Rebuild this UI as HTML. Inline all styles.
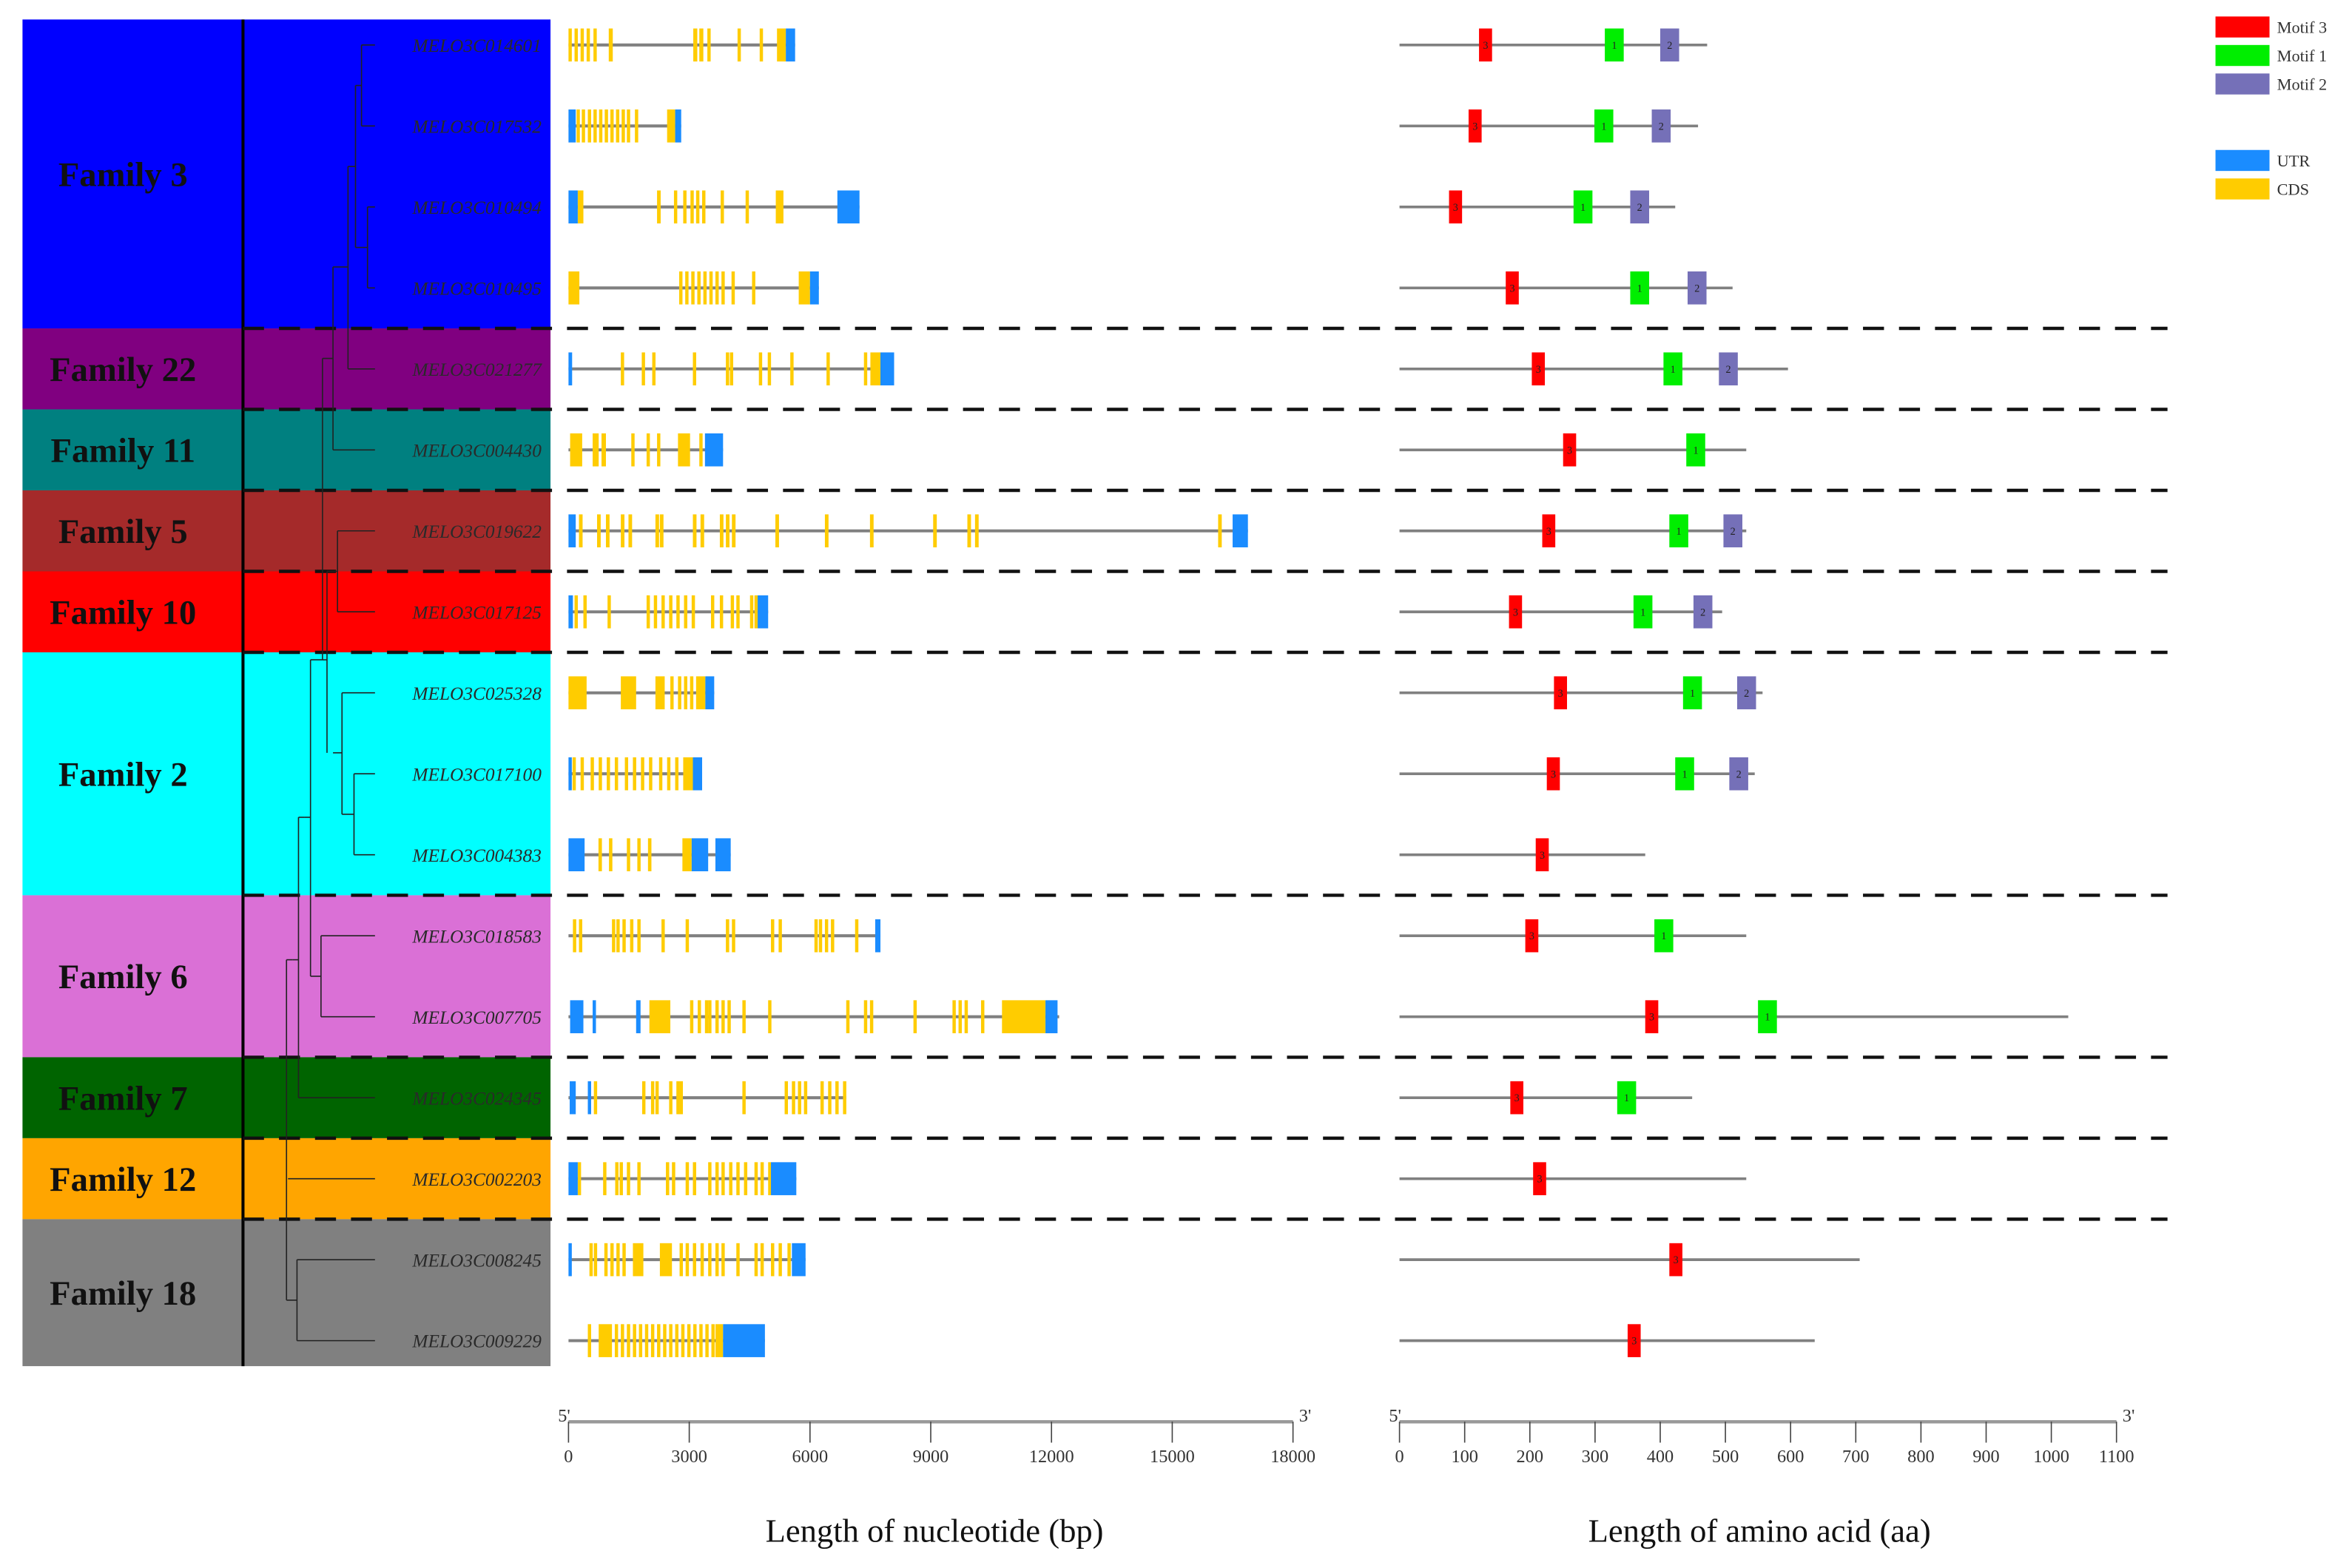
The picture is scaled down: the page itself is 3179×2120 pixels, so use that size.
<!DOCTYPE html>
<html><head><meta charset="utf-8"><style>
html,body{margin:0;padding:0;background:#fff;}
svg{display:block;}
text{font-family:"Liberation Serif",serif;}
</style></head><body>
<svg id="chart" xmlns="http://www.w3.org/2000/svg" width="3179" height="2120" viewBox="0 0 1568 1045.6" preserveAspectRatio="none">
<rect x="0" y="0" width="1568" height="1046" fill="#fff"/>
<g id="fam"></g><g id="tree"></g><g id="genes"></g><g id="prot"></g><g id="axes"></g>
<g id="legend">
 <rect x="1477" y="11" width="36" height="14" fill="#ff0000"/>
 <text x="1518" y="22" font-size="11" fill="#333">Motif 3</text>
 <rect x="1477" y="30" width="36" height="14" fill="#00ee00"/>
 <text x="1518" y="41" font-size="11" fill="#333">Motif 1</text>
 <rect x="1477" y="49" width="36" height="14" fill="#7570b8"/>
 <text x="1518" y="60" font-size="11" fill="#333">Motif 2</text>
 <rect x="1477" y="100" width="36" height="14" fill="#1a8cff"/>
 <text x="1518" y="111" font-size="11" fill="#333">UTR</text>
 <rect x="1477" y="119" width="36" height="14" fill="#ffcc00"/>
 <text x="1518" y="130" font-size="11" fill="#333">CDS</text>
</g>
</svg>
<script>
const families=["Family 3","Family 22","Family 11","Family 5","Family 10","Family 2","Family 6","Family 7","Family 12","Family 18"];
const familyColors=["#0000ff","#800080","#008080","#a52a2a","#ff0000","#00ffff","#da70d6","#006400","#ffa500","#808080"];
const familySizes=[4,1,1,1,1,3,2,1,1,2];
const geneNames=["MELO3C014601","MELO3C017532","MELO3C010494","MELO3C010495","MELO3C021277","MELO3C004430","MELO3C019622","MELO3C017125","MELO3C025328","MELO3C017100","MELO3C004383","MELO3C018583","MELO3C007705","MELO3C024345","MELO3C002203","MELO3C008245","MELO3C009229"];
const geneLengths=[5630,2800,7230,6220,8090,3840,16880,4960,3620,3320,4030,7750,12190,6900,5660,5890,4880];
const utrRegions=[
[[5400,5630]],
[[0,180],[2650,2800]],
[[0,230],[6680,7230]],
[[6000,6220]],
[[0,90],[7750,8090]],
[[3390,3840]],
[[0,180],[16500,16880]],
[[0,110],[4700,4960]],
[[3400,3620]],
[[0,60],[3090,3320]],
[[0,400],[3060,3470],[3650,4030]],
[[7620,7750]],
[[40,370],[600,650],[1680,1790],[11850,12150]],
[[30,180],[480,530]],
[[0,230],[5030,5660]],
[[0,40],[5550,5890]],
[[3840,4880]]
];
const cdsRegions=[
[[0,80],[150,230],[300,380],[450,530],[620,700],[1000,1100],[3100,3200],[3250,3350],[3450,3530],[4200,4280],[4750,4830],[5180,5400]],
[[200,270],[330,400],[480,560],[620,690],[760,830],[900,970],[1040,1110],[1180,1250],[1320,1390],[1450,1520],[1650,1700],[2450,2650]],
[[230,370],[2200,2290],[2620,2700],[2850,2920],[3030,3100],[3170,3240],[3320,3390],[3780,3850],[4400,4470],[5150,5340]],
[[0,270],[2750,2820],[2900,2970],[3050,3120],[3200,3270],[3350,3420],[3500,3570],[3650,3720],[3800,3870],[4050,4120],[4560,4640],[5720,6000]],
[[1300,1380],[1820,1900],[2080,2160],[3090,3170],[3910,3990],[4010,4090],[4730,4810],[4950,5030],[5510,5590],[6410,6490],[7340,7420],[7500,7750]],
[[40,340],[600,750],[820,930],[1560,1640],[1940,2010],[2200,2280],[2720,3020],[3250,3330]],
[[260,350],[710,800],[930,1020],[1300,1390],[1490,1580],[2160,2250],[2270,2360],[3090,3180],[3280,3370],[3760,3850],[3910,4000],[4060,4150],[5140,5230],[6370,6460],[7490,7580],[9060,9150],[9910,10000],[10100,10190],[16140,16230]],
[[150,220],[370,440],[970,1040],[1940,2010],[2120,2190],[2310,2380],[2500,2570],[2680,2750],[2870,2940],[3060,3130],[3540,3610],[3760,3830],[4030,4100],[4170,4240],[4510,4580],[4620,4700]],
[[0,450],[1300,1680],[2160,2390],[2530,2600],[2720,2790],[2870,2940],[3020,3090],[3170,3400]],
[[100,170],[300,370],[550,620],[750,820],[950,1020],[1150,1220],[1400,1470],[1600,1670],[1800,1870],[2000,2070],[2250,2320],[2450,2520],[2650,2720],[2850,3090]],
[[745,830],[1006,1090],[1450,1530],[1710,1790],[1975,2060],[2830,3060]],
[[110,180],[260,330],[1080,1150],[1190,1260],[1340,1410],[1530,1600],[1710,1780],[2310,2380],[2910,2980],[3910,3980],[4060,4130],[5030,5100],[5220,5290],[6110,6180],[6220,6290],[6370,6440],[6520,6590],[7120,7190]],
[[2010,2530],[3020,3090],[3210,3280],[3390,3460],[3470,3540],[3650,3720],[3800,3870],[3950,4020],[4320,4390],[4960,5030],[6900,6970],[7340,7410],[7490,7560],[8570,8640],[9540,9610],[9690,9760],[9840,9910],[10250,10320],[10770,11850]],
[[630,700],[1830,1900],[2050,2120],[2160,2230],[2500,2570],[2680,2750],[2760,2830],[4320,4390],[5370,5440],[5550,5620],[5700,5770],[5850,5920],[6260,6330],[6450,6520],[6630,6700],[6820,6900]],
[[230,300],[860,930],[1160,1230],[1270,1340],[1450,1520],[1710,1780],[2420,2490],[2570,2640],[2910,2980],[3090,3160],[3470,3540],[3650,3720],[3800,3870],[3990,4060],[4170,4240],[4360,4430],[4620,4690],[4770,4840],[4960,5030]],
[[520,590],[630,700],[890,960],[1040,1110],[1190,1260],[1340,1410],[1600,1860],[2270,2570],[2760,2830],[2910,2980],[3090,3160],[3280,3350],[3470,3540],[3650,3720],[3800,3870],[4170,4240],[4620,4690],[4770,4840],[5030,5100],[5220,5290],[5440,5510]],
[[480,560],[750,1080],[1150,1230],[1300,1380],[1450,1530],[1600,1680],[1750,1830],[1900,1980],[2050,2130],[2200,2280],[2350,2430],[2500,2580],[2650,2730],[2800,2880],[2950,3030],[3100,3180],[3250,3330],[3400,3480],[3550,3630],[3650,3840]]
];
const proteinLengths=[472,458,423,511,596,532,532,495,557,545,377,532,1026,449,532,706,637];
const motif3Start=[122,106,76,163,203,251,219,168,237,226,209,193,377,170,205,414,350];
const motif1Start=[315,299,267,354,405,440,414,359,435,423,null,391,550,334,null,null,null];
const motif2Start=[400,387,354,442,490,null,497,451,518,506,null,null,null,null,null,null,null];
const motifLen={m3:20,m1:29,m2:29};
const ntTicks=[0,3000,6000,9000,12000,15000,18000];
const aaTicks=[0,100,200,300,400,500,600,700,800,900,1000,1100];

const NS="http://www.w3.org/2000/svg";
function mk(tag,attrs,parent,txt){const e=document.createElementNS(NS,tag);for(const k in attrs)e.setAttribute(k,attrs[k]);if(txt!==undefined)e.textContent=txt;parent.appendChild(e);return e;}
const xNt=v=>379+v*(483/18000);
const xAa=v=>933+v*(478/1100);
const TOP=13,ROWH=54;
const rowY=i=>30+i*ROWH;

// families
const gF=document.getElementById('fam');
let r=0;const bounds=[];
families.forEach((f,i)=>{
 const y0=i===0?TOP:rowY(r)-27;const y1=rowY(r+familySizes[i]-1)+(i===families.length-1?17:27);
 bounds.push(y1);
 const b=mk('rect',{x:15,y:y0,width:352,height:y1-y0,fill:familyColors[i]},gF);
 
 
 const t=mk('text',{x:82,y:(y0+y1)/2+8,'font-size':23,'font-weight':'bold','text-anchor':'middle',fill:'#111'},gF,f);
 
 
 r+=familySizes[i];
});
const vl=mk('line',{x1:162,y1:TOP,x2:162,y2:911,stroke:'#000','stroke-width':2},gF);


bounds.slice(0,-1).forEach((y,i)=>{
 const d=mk('line',{x1:162,y1:y,x2:1445,y2:y,stroke:'#111','stroke-width':2.2,'stroke-dasharray':'14,10'},gF);
 
 
});

// tree (topology sketch)
const gT=document.getElementById('tree');
const segs=[[241,30,250,30],[241,84,250,84],[241,30,241,84],[237,57,241,57],[245,138,250,138],[245,192,250,192],[245,138,245,192],[237,165,245,165],[237,57,237,165],[232,111,237,111],[232,246,250,246],[232,111,232,246],[222,178,232,178],[222,300,250,300],[222,178,222,300],[215,239,222,239],[225,354,250,354],[225,408,250,408],[225,354,225,408],[218,381,225,381],[236,516,250,516],[236,570,250,570],[236,516,236,543],[236,543,236,570],[228,462,250,462],[228,543,236,543],[228,462,228,543],[222,502,228,502],[218,381,218,502],[215,239,215,440],[215,440,218,440],[214,624,250,624],[214,678,250,678],[214,624,214,678],[207,651,214,651],[207,440,215,440],[207,440,207,651],[199,732,250,732],[203,545,207,545],[199,545,203,545],[199,545,199,732],[192,786,250,786],[198,840,250,840],[198,894,250,894],[198,840,198,894],[191,867,198,867],[195,640,199,640],[191,640,195,640],[191,640,191,867]];
segs.forEach(s=>{const l=mk('line',{x1:s[0],y1:s[1],x2:s[2],y2:s[3],stroke:'#222','stroke-width':0.8},gT);});

// genes
const gG=document.getElementById('genes');
geneNames.forEach((n,i)=>{
 const y=rowY(i);
 const lab=mk('text',{x:361,y:y+4.5,'font-size':12.5,'font-style':'italic','text-anchor':'end',fill:'#2a2a2a'},gG,n);
 
 
 const g=mk('g',{},gG);
 
 
 const ln=mk('line',{x1:xNt(0),y1:y,x2:xNt(geneLengths[i]),y2:y,stroke:'#808080','stroke-width':2},g);
 
 
 cdsRegions[i].forEach(c=>{const e=mk('rect',{x:xNt(c[0]),y:y-11,width:Math.max(2.2,xNt(c[1])-xNt(c[0])),height:22,fill:'#ffcc00'},g);});
 utrRegions[i].forEach(c=>{const e=mk('rect',{x:xNt(c[0]),y:y-11,width:Math.max(2.2,xNt(c[1])-xNt(c[0])),height:22,fill:'#1a8cff'},g);});
});

// proteins
const gP=document.getElementById('prot');
function motif(g,start,len,col,lbl,y,name){
 if(start===null)return;
 const x=xAa(start),w=xAa(start+len)-x;
 const m=mk('rect',{x:x,y:y-11,width:w,height:22,fill:col},g);
 
 
 const t=mk('text',{x:x+w/2,y:y+2.5,'font-size':7,'text-anchor':'middle',fill:'#222'},g,lbl);
 
 
}
geneNames.forEach((n,i)=>{
 const y=rowY(i);
 const g=mk('g',{},gP);
 
 
 const ln=mk('line',{x1:xAa(0),y1:y,x2:xAa(proteinLengths[i]),y2:y,stroke:'#808080','stroke-width':1.8},g);
 
 
 motif(g,motif3Start[i],motifLen.m3,'#ff0000','3',y,'motif3-box');
 motif(g,motif1Start[i],motifLen.m1,'#00ee00','1',y,'motif1-box');
 motif(g,motif2Start[i],motifLen.m2,'#7570b8','2',y,'motif2-box');
});

// axes
const gA=document.getElementById('axes');
function axis(ticks,fx,name,title,tcx){
 const g=mk('g',{},gA);
 
 
 const x0=fx(ticks[0]),x1=fx(ticks[ticks.length-1]);
 mk('rect',{x:x0,y:947,width:x1-x0,height:2.2,fill:'#999'},g);
 mk('text',{x:x0-7,y:948,'font-size':12,fill:'#333'},g,"5'");
 mk('text',{x:x1+4,y:948,'font-size':12,fill:'#333'},g,"3'");
 ticks.forEach(t=>{
  const x=fx(t);
  const tl=mk('line',{x1:x,y1:948,x2:x,y2:962,stroke:'#444','stroke-width':0.8},g);
  
  
  const tx=mk('text',{x:x,y:975,'font-size':12,'text-anchor':'middle',fill:'#333'},g,String(t));
  
  
 });
 const tt=mk('text',{x:tcx,y:1028,'font-size':22,'text-anchor':'middle',fill:'#111'},g,title);
 
 
}
axis(ntTicks,xNt,'nucleotide-axis','Length of nucleotide (bp)',623);
axis(aaTicks,xAa,'amino-acid-axis','Length of amino acid (aa)',1173);
</script>
</body></html>
